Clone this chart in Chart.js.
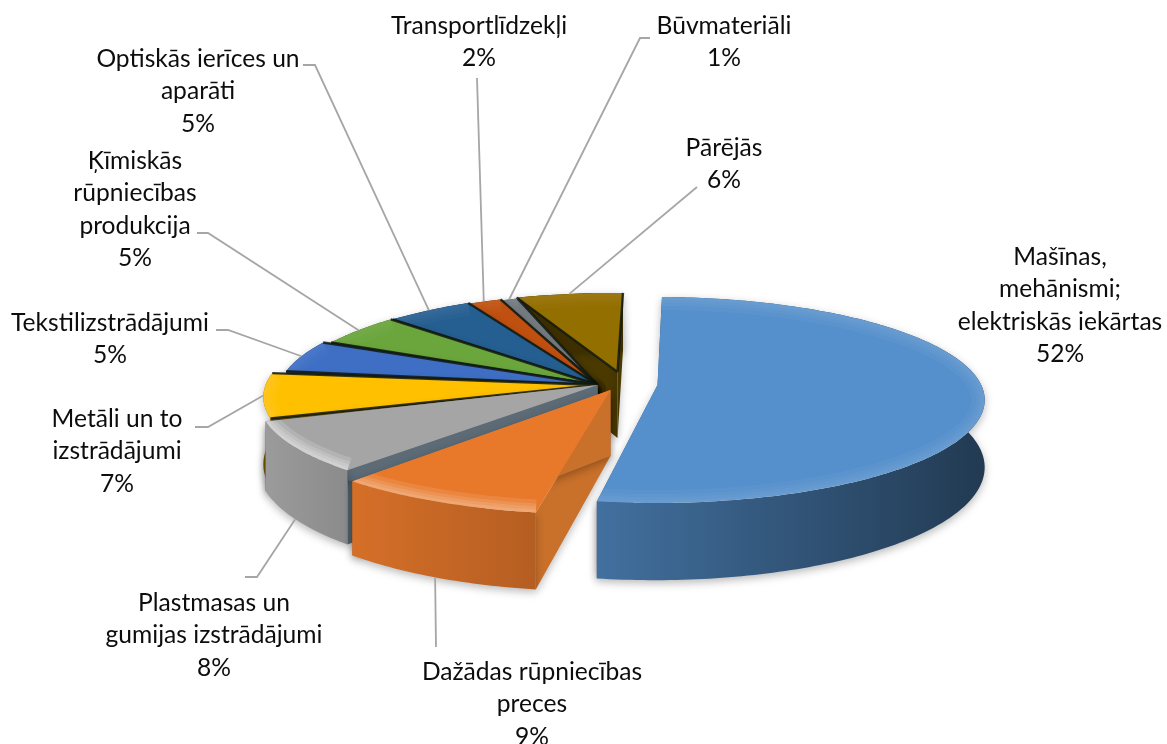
<!DOCTYPE html>
<html>
<head>
<meta charset="utf-8">
<style>
  html, body { margin: 0; padding: 0; background: #fff; }
  #chart { display: block; }
</style>
</head>
<body>
<canvas id="chart" width="1167" height="744"></canvas>
<script src="https://cdn.jsdelivr.net/npm/chart.js@4"></script>
<script>
var categories = [
  ["Mašīnas,", "mehānismi;", "elektriskās iekārtas"],
  ["Dažādas rūpniecības", "preces"],
  ["Plastmasas un", "gumijas izstrādājumi"],
  ["Metāli un to", "izstrādājumi"],
  ["Tekstilizstrādājumi"],
  ["Ķīmiskās", "rūpniecības", "produkcija"],
  ["Optiskās ierīces un", "aparāti"],
  ["Transportlīdzekļi"],
  ["Būvmateriāli"],
  ["Pārējās"]
];
var shares = [52, 9, 8, 7, 5, 5, 5, 2, 1, 6];
var colors = ["#5590CC", "#E8792B", "#A5A5A5", "#FFC000", "#3E6FC4",
              "#6BA63C", "#255E91", "#C0500F", "#747B80", "#936F00"];

// layout of the fake 3d view, everything else comes from the arc elements
var xScale = 0.91, yScale = 0.281, persp = 0.145, depth = 66;
var rimShift = [[57, 0], [-4, 11], [-9, 0], [-4, -3], [10, -5], [18, -5], [20, -5], [19, -4], [19, -3], [18, -4]];
var hubShift = [[60, 0], [13, 5], [0, 0], [0, 0], [0, 0], [0, 0], [0, 0], [0, 0], [0, 0], [20, -13]];
var wallShade = [[0.78, 0.40], [0.92, 0.78], [0.94, 0.84], [0.5, 0.5], [0.5, 0.5],
                 [0.5, 0.5], [0.5, 0.5], [0.5, 0.5], [0.5, 0.5], [0.42, 0.42]];
var edgeColors = ["#2f5a85", "#C9702A", "#5c6b76", "#5c4a00", "#1c2f55",
                  "#2f4a1c", "#12304a", "#5c2a08", "#3a3d40", "#4a3a00"];
var bevel = [0.03, 0.1, 0.16, 0.03, 0.02, 0.02, 0.02, 0.02, 0.02, 0.02];

var labelPos = [[1060, 265], [532, 680], [214, 611], [117, 427], [110, 331],
                [135, 169], [198, 67], [479, 34], [724, 34], [724, 156]];
var lineHeight = 32.4;
// elbow points of the leader lines, the inner end is taken from the slice
var leaders = [
  null,
  [[436, 647]],
  [[257, 577], [245, 577]],
  [[208, 427], [195, 427]],
  [[228, 330], [216, 330]],
  [[208, 233], [197, 233]],
  [[315, 65], [303, 65]],
  [[477, 78]],
  [[640, 38], [650, 38]],
  [[697, 187]]
];

function shade(hex, k) {
  var n = parseInt(hex.slice(1), 16);
  return "rgb(" + Math.round((n >> 16) * k) + "," + Math.round(((n >> 8) & 255) * k) + "," + Math.round((n & 255) * k) + ")";
}

function project(el, i, angle) {
  var R = el.outerRadius;
  var u = Math.cos(angle), v = Math.sin(angle);
  var w = 1 - persp * v;
  return {
    x: el.x + rimShift[i][0] + R * xScale * u / w,
    y: el.y + rimShift[i][1] + R * yScale * v / w,
    d: depth / w
  };
}

function rim(el, i) {
  var pts = [];
  var n = Math.ceil((el.endAngle - el.startAngle) / (Math.PI / 180));
  for (var k = 0; k <= n; k++) {
    pts.push(project(el, i, el.startAngle + (el.endAngle - el.startAngle) * k / n));
  }
  return pts;
}

function trace(ctx, pts, open) {
  ctx.beginPath();
  pts.forEach(function (p, k) {
    if (k == 0) ctx.moveTo(p.x, p.y); else ctx.lineTo(p.x, p.y);
  });
  if (!open) ctx.closePath();
}

function drawSlice(ctx, el, i) {
  var color = colors[i];
  var pts = rim(el, i);
  var apex = { x: el.x + hubShift[i][0], y: el.y + hubShift[i][1], d: depth };
  var first = pts[0], last = pts[pts.length - 1];
  var down = function (p) { return { x: p.x, y: p.y + p.d }; };

  ctx.save();
  ctx.shadowColor = "rgba(0,0,0,0.28)";
  ctx.shadowBlur = 9;
  ctx.shadowOffsetY = 3;

  // radial walls
  ctx.fillStyle = edgeColors[i];
  trace(ctx, [apex, first, down(first), down(apex)]);
  ctx.fill();
  trace(ctx, [apex, last, down(last), down(apex)]);
  ctx.fill();

  // outer wall
  var xs = pts.map(function (p) { return p.x; });
  var g = ctx.createLinearGradient(Math.min.apply(null, xs), 0, Math.max.apply(null, xs), 0);
  g.addColorStop(0, shade(color, wallShade[i][0]));
  g.addColorStop(1, shade(color, wallShade[i][1]));
  ctx.fillStyle = g;
  trace(ctx, pts.concat(pts.slice().reverse().map(down)));
  ctx.fill();
  ctx.restore();

  // top face
  ctx.save();
  trace(ctx, [apex].concat(pts));
  ctx.fillStyle = color;
  ctx.fill();
  ctx.clip();

  // soft light band along the rim
  trace(ctx, pts, true);
  ctx.strokeStyle = "rgba(255,255,255," + bevel[i] + ")";
  [26, 18, 12, 6].forEach(function (w) {
    ctx.lineWidth = w;
    ctx.stroke();
  });
  ctx.restore();

  // dark seam between the back slices
  if (i >= 3) {
    ctx.beginPath();
    ctx.moveTo(last.x, last.y);
    ctx.lineTo(apex.x, apex.y);
    ctx.moveTo(first.x, first.y);
    ctx.lineTo(apex.x, apex.y);
    ctx.strokeStyle = "rgba(18,26,18,0.85)";
    ctx.lineWidth = 2.4;
    ctx.stroke();
  }
}

function drawLeader(ctx, el, i) {
  if (!leaders[i]) return;
  var mid = (el.startAngle + el.endAngle) / 2;
  var p = project(el, i, mid);
  var y = Math.sin(mid) > 0.3 ? p.y + p.d : p.y;
  ctx.beginPath();
  ctx.moveTo(p.x, y);
  leaders[i].forEach(function (q) { ctx.lineTo(q[0], q[1]); });
  ctx.strokeStyle = "#A6A6A6";
  ctx.lineWidth = 1.8;
  ctx.stroke();
}

function drawLabel(ctx, i) {
  var lines = categories[i].concat([shares[i] + "%"]);
  ctx.font = "24.6px Lato";
  ctx.fillStyle = "#0d0d0d";
  ctx.textAlign = "center";
  ctx.textBaseline = "alphabetic";
  lines.forEach(function (t, k) {
    ctx.fillText(t, labelPos[i][0], labelPos[i][1] + k * lineHeight);
  });
}

var pie3d = {
  id: "pie3d",
  beforeDatasetDraw: function (chart, args) {
    var ctx = chart.ctx;
    var arcs = args.meta.data;
    for (var i = arcs.length - 1; i >= 0; i--) drawSlice(ctx, arcs[i], i);
    for (var i = 0; i < arcs.length; i++) {
      drawLeader(ctx, arcs[i], i);
      drawLabel(ctx, i);
    }
    return false;
  }
};

new Chart(document.getElementById("chart").getContext("2d"), {
  type: "pie",
  data: {
    labels: categories.map(function (c) { return c.join(" "); }),
    datasets: [{ data: shares, backgroundColor: colors, borderWidth: 0 }]
  },
  options: {
    responsive: false,
    animation: false,
    rotation: 1.5,
    layout: { padding: { left: 28, top: 26 } },
    plugins: { legend: { display: false }, tooltip: { enabled: false } }
  },
  plugins: [pie3d]
});
</script>
</body>
</html>
